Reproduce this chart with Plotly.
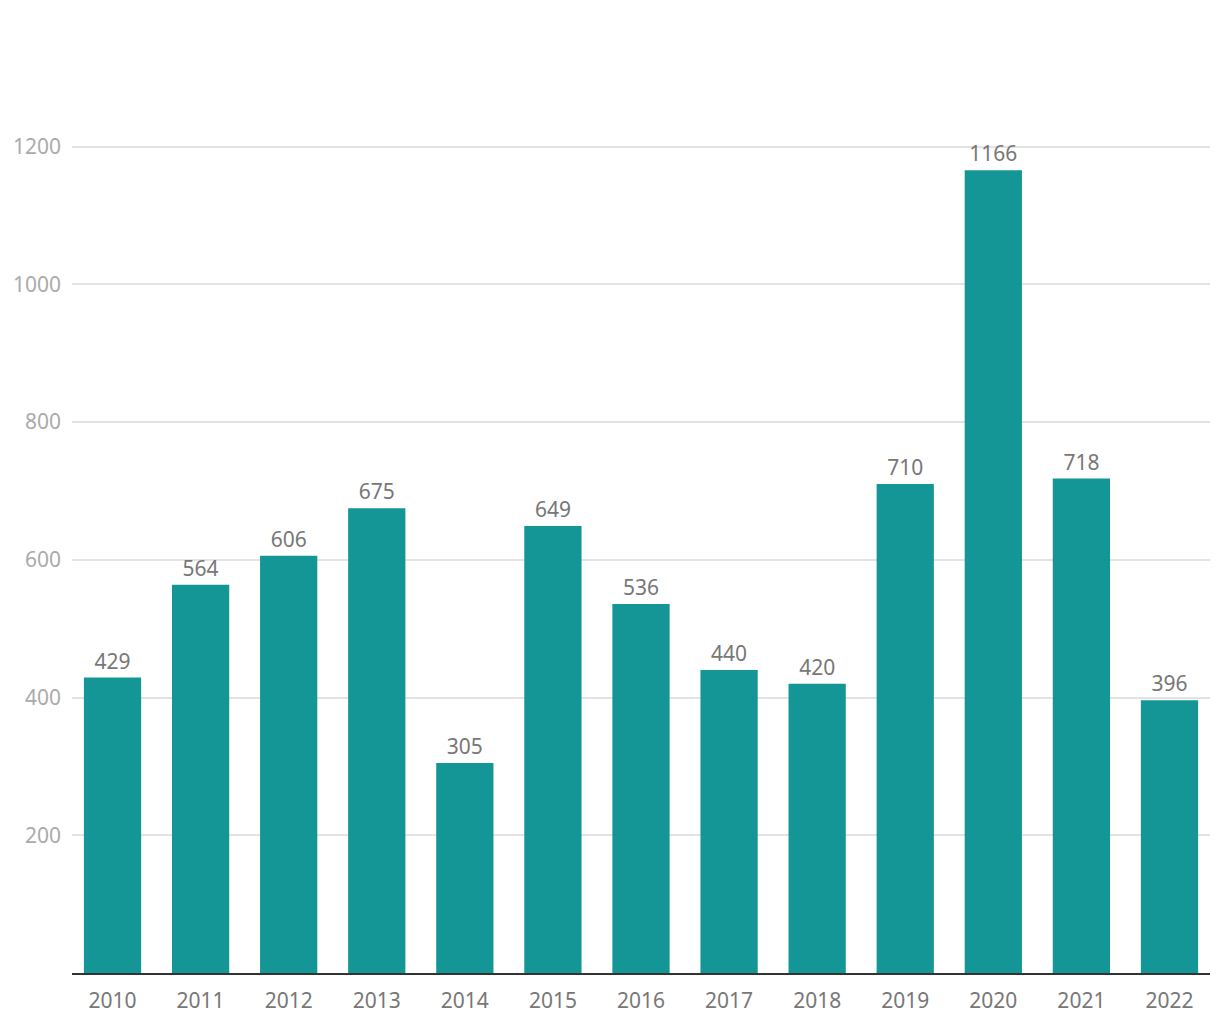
import plotly.graph_objects as go

years = ["2010", "2011", "2012", "2013", "2014", "2015", "2016", "2017", "2018", "2019", "2020", "2021", "2022"]
values = [429, 564, 606, 675, 305, 649, 536, 440, 420, 710, 1166, 718, 396]
y_ticks = [200, 400, 600, 800, 1000, 1200]

fig = go.Figure(go.Bar(
    x=years, y=values,
    marker=dict(color="#159696", line=dict(width=0)),
    text=[str(v) for v in values],
    textposition="outside",
    textfont=dict(family="Noto Sans", size=21, color="#777777"),
    cliponaxis=False,
))

fig.update_layout(
    width=1220, height=1020,
    margin=dict(l=72, r=10, t=9, b=47),
    plot_bgcolor="white", paper_bgcolor="white",
    bargap=0.35,
    showlegend=False,
    font=dict(family="Noto Sans"),
    xaxis=dict(
        type="category",
        range=[-0.46, 12.46],
        showgrid=False,
        showline=True, linecolor="#333333", linewidth=2,
        ticks="",
        automargin=False,
        ticklabelstandoff=8,
        tickfont=dict(size=21, color="#777777"),
    ),
    yaxis=dict(
        range=[0, 1400],
        tickvals=y_ticks,
        showgrid=True, gridcolor="#e3e3e3", gridwidth=1.5,
        zeroline=False,
        showline=False,
        ticks="",
        automargin=False,
        ticklabelstandoff=10,
        tickfont=dict(size=21, color="#aaaaaa"),
    ),
)

fig.write_html("out.html")
